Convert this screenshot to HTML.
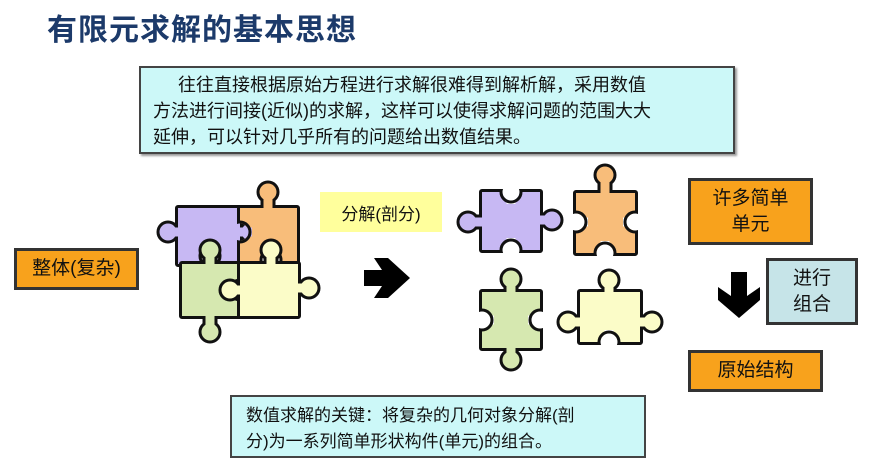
<!DOCTYPE html>
<html><head><meta charset="utf-8"><style>
body{margin:0;width:869px;height:469px;background:#fff;overflow:hidden;position:relative;font-family:"Liberation Sans","Noto Sans CJK SC",sans-serif}
.b{position:absolute;box-sizing:border-box;display:flex;align-items:center;justify-content:center;text-align:center;color:#111}
.o{background:#f8a21c;border:3px solid #333;font-size:19px;line-height:26px}
</style></head><body>
<div style="position:absolute;left:47px;top:5px;font-size:30px;color:#1c3a6a;letter-spacing:1px;font-weight:bold;-webkit-text-stroke:0px">有限元求解的基本思想</div>
<div class="b" style="left:139px;top:66px;width:596px;height:88px;background:#ccf8f8;border:2px solid #444;box-shadow:2px 2px 2px #999;display:block;text-align:left;padding:4px 0 0 12px;font-size:18px;line-height:26px">&nbsp;&nbsp;&nbsp;&nbsp;&nbsp;往往直接根据原始方程进行求解很难得到解析解，采用数值<br>方法进行间接(近似)的求解，这样可以使得求解问题的范围大大<br>延伸，可以针对几乎所有的问题给出数值结果。</div>
<div class="b o" style="left:14px;top:248px;width:125px;height:42px">整体(复杂)</div>
<div class="b" style="left:320px;top:192px;width:122px;height:40px;background:#ffff9c;font-size:17px">分解(剖分)</div>
<div class="b o" style="left:688px;top:178px;width:125px;height:67px">许多简单<br>单元</div>
<div class="b" style="left:766px;top:258px;width:92px;height:67px;background:#c6e4e8;border:3px solid #333;font-size:19px;line-height:26px">进行<br>组合</div>
<div class="b o" style="left:688px;top:350px;width:135px;height:42px">原始结构</div>
<div class="b" style="left:230px;top:395px;width:416px;height:63px;background:#ccf8f8;border:2px solid #444;display:block;text-align:left;padding:6px 0 0 14px;font-size:17px;line-height:26px">数值求解的关键：将复杂的几何对象分解(剖<br>分)为一系列简单形状构件(单元)的组合。</div>
<svg id="s" width="869" height="469" style="position:absolute;left:0;top:0">
<g fill="#000">
<polygon points="364,270 382,270 374,258 388,258 410,278 388,298 374,298 382,286 364,286"/>
<polygon points="731,272 747,272 747,296 760,287 760,300 739,318 718,300 718,287 731,296"/>
</g>
</svg>
<script>
var s=document.getElementById('s'),NS='http://www.w3.org/2000/svg',n=0;
function el(t,a,p){var e=document.createElementNS(NS,t);for(var k in a)e.setAttribute(k,a[k]);(p||s).appendChild(e);return e;}
function shapes(p,par,attrs){
  el('rect',Object.assign({x:p.x,y:p.y,width:p.w,height:p.h},attrs),par);
  (p.k||[]).forEach(function(c){var cx=c[0],cy=c[1],r;
    el('circle',Object.assign({cx:cx,cy:cy,r:8.5},attrs),par);
    if(cy<p.y) r={x:cx-4.5,y:cy,width:9,height:p.y-cy+2};
    else if(cy>p.y+p.h) r={x:cx-4.5,y:p.y+p.h-2,width:9,height:cy-p.y-p.h+2};
    else if(cx<p.x) r={x:cx,y:cy-4.5,width:p.x-cx+2,height:9};
    else r={x:p.x+p.w-2,y:cy-4.5,width:cx-p.x-p.w+2,height:9};
    el('rect',Object.assign(r,attrs),par);});
}
function piece(p){n++;
  var m=el('mask',{id:'m'+n});el('rect',{x:0,y:0,width:869,height:469,fill:'#fff'},m);
  (p.h2||[]).forEach(function(c){el('circle',{cx:c[0],cy:c[1],r:8.5,fill:'#000'},m);el('rect',{x:c[0]-4.5,y:c[1]-12,width:9,height:24,fill:'#000',transform:c[2]?'rotate(90 '+c[0]+' '+c[1]+')':''},m);});
  var g=el('g',{mask:'url(#m'+n+')'});
  shapes(p,g,{fill:'#111',stroke:'#111','stroke-width':6,'stroke-linejoin':'round'});
  shapes(p,g,{fill:p.f});
  var cp=el('clipPath',{id:'c'+n});el('rect',{x:p.x,y:p.y,width:p.w,height:p.h},cp);
  var g2=el('g',{'clip-path':'url(#c'+n+')'});
  (p.h2||[]).forEach(function(c){el('circle',{cx:c[0],cy:c[1],r:10,fill:'none',stroke:'#111','stroke-width':3},g2);});
}
var P='#c7b8f3',O='#f8bd7a',G='#d6e8b0',Y='#fbfcc8';
// cluster
piece({x:178,y:208,w:62,h:56,f:P,k:[[168,232],[250,232]],h2:[[210,256]]});
piece({x:240,y:208,w:57,h:56,f:O,k:[[268,192]],h2:[[240,232,1],[271,260]]});
piece({x:182,y:264,w:58,h:52,f:G,k:[[210,250],[210,332]],h2:[[240,290,1]]});
piece({x:240,y:264,w:58,h:52,f:Y,k:[[271,250],[230,290],[309,288]]});
// separated
piece({x:482,y:192,w:58,h:58,f:P,k:[[468,222],[552,220]],h2:[[511,192],[511,250]]});
piece({x:576,y:193,w:59,h:60,f:O,k:[[605,175]],h2:[[576,222,1],[635,222,1],[605,253]]});
piece({x:482,y:292,w:58,h:56,f:G,k:[[511,279],[511,360]],h2:[[482,320,1],[540,320,1]]});
piece({x:580,y:292,w:60,h:50,f:Y,k:[[609,280],[568,322],[652,322]],h2:[[609,342]]});
</script>
</body></html>
